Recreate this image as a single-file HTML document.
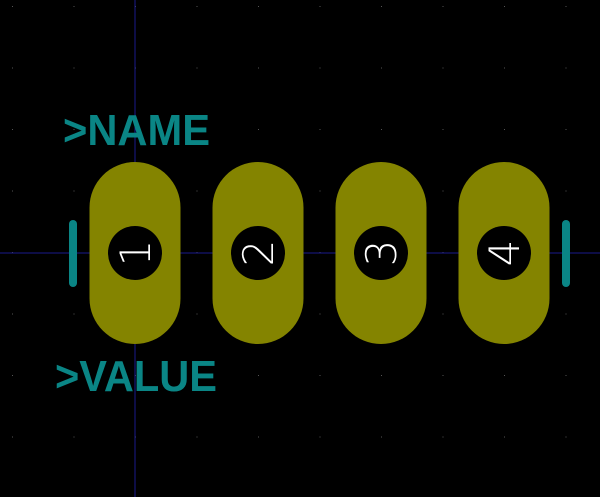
<!DOCTYPE html>
<html><head><meta charset="utf-8"><style>
html,body{margin:0;padding:0;background:#000;}
svg{display:block;}
</style></head><body>
<svg width="600" height="497" viewBox="0 0 600 497" xmlns="http://www.w3.org/2000/svg">
<rect width="600" height="497" fill="#000"/>
<g id="grid"></g>
<line x1="135" y1="0" x2="135" y2="497" stroke="#1a1a8c" stroke-width="1"/>
<line x1="0" y1="253" x2="600" y2="253" stroke="#1a1a8c" stroke-width="1"/>
<g id="pads"></g>
<line x1="73" y1="224" x2="73" y2="283" stroke="#0a8585" stroke-width="8" stroke-linecap="round"/>
<line x1="566" y1="224" x2="566" y2="283" stroke="#0a8585" stroke-width="8" stroke-linecap="round"/>
<text x="63" y="145" font-family="Liberation Sans, sans-serif" font-weight="bold" font-size="44" fill="#0a8585" textLength="147" lengthAdjust="spacingAndGlyphs">&gt;NAME</text>
<text x="55" y="391" font-family="Liberation Sans, sans-serif" font-weight="bold" font-size="44" fill="#0a8585" textLength="162" lengthAdjust="spacingAndGlyphs">&gt;VALUE</text>
</svg>
<script>
const padNumbers = ["1","2","3","4"];
const NS="http://www.w3.org/2000/svg";
const grid=document.getElementById('grid');
for(let gx=12;gx<600;gx+=61.5){for(let gy=6;gy<497;gy+=61.5){
const d=document.createElementNS(NS,'rect');
d.setAttribute('x',gx);d.setAttribute('y',gy);d.setAttribute('width',1);d.setAttribute('height',1);d.setAttribute('fill','#555');


grid.appendChild(d);}}
const pads=document.getElementById('pads');
padNumbers.forEach((n,i)=>{
const cx=135+i*123, cy=253;
const r=document.createElementNS(NS,'rect');
r.setAttribute('x',cx-45.5);r.setAttribute('y',162);r.setAttribute('width',91);r.setAttribute('height',182);
r.setAttribute('rx',45.5);r.setAttribute('fill','#848400');


pads.appendChild(r);
const h=document.createElementNS(NS,'circle');
h.setAttribute('cx',cx);h.setAttribute('cy',cy);h.setAttribute('r',27);h.setAttribute('fill','#000');


pads.appendChild(h);
const t=document.createElementNS(NS,'text');
t.setAttribute('x',0);t.setAttribute('y',15);t.setAttribute('text-anchor','middle');
t.setAttribute('font-family','DejaVu Sans, Liberation Sans, sans-serif');t.setAttribute('font-weight','200');t.setAttribute('font-size','42');
t.setAttribute('fill','#fff');
t.setAttribute('transform','translate('+cx+','+cy+') rotate(-90)');
t.textContent=n;


pads.appendChild(t);
});
</script>
</body></html>
